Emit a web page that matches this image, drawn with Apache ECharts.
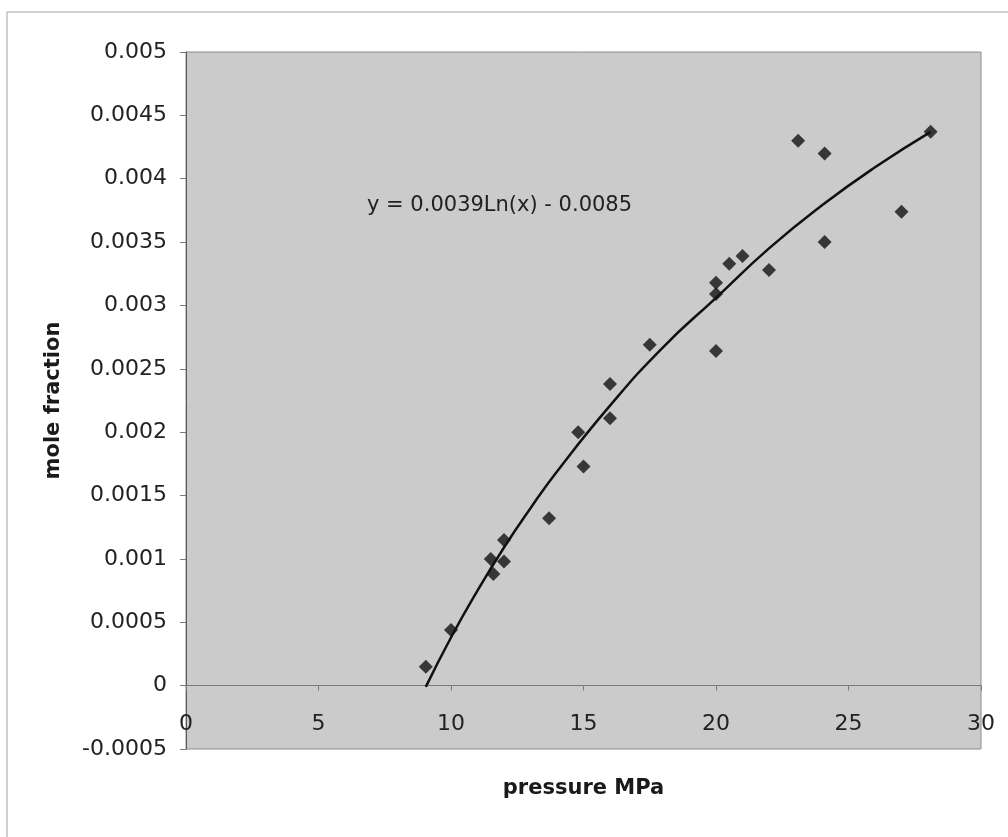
<!DOCTYPE html>
<html>
<head>
<meta charset="utf-8">
<script src="https://cdn.jsdelivr.net/npm/echarts@6.0.0/dist/echarts.min.js"></script>
<style>
  html, body { margin: 0; padding: 0; background: #ffffff; }
  #chart { width: 1008px; height: 837px; }
</style>
</head>
<body>
<div id="chart"></div>
<script>
  // measured points (pressure MPa, mole fraction)
  const pressure = [
    9.05, 10.0, 11.5, 11.6, 12.0, 12.0, 13.7, 14.8, 15.0, 16.0, 16.0, 17.5,
    20.0, 20.0, 20.0, 20.5, 21.0, 22.0, 23.1, 24.1, 24.1, 27.0, 28.1,
  ];
  const moleFraction = [
    0.00015, 0.00044, 0.001, 0.00088, 0.00115, 0.00098, 0.00132, 0.002,
    0.00173, 0.00238, 0.00211, 0.00269, 0.00264, 0.00309, 0.00318, 0.00333,
    0.00339, 0.00328, 0.0043, 0.0042, 0.0035, 0.00374, 0.00437,
  ];

  // log trendline as drawn
  const trendX = [9.05, 10, 11, 12, 13, 14, 16, 18, 20, 22, 24, 26, 28.1];
  const trendY = [
    -0.00001, 0.00038, 0.00075, 0.00109, 0.0014, 0.00169, 0.00221, 0.00267,
    0.00306, 0.00345, 0.00379, 0.00409, 0.00437,
  ];

  const xTicks = [0, 5, 10, 15, 20, 25, 30];
  const yTicks = [
    -0.0005, 0, 0.0005, 0.001, 0.0015, 0.002, 0.0025, 0.003, 0.0035, 0.004,
    0.0045, 0.005,
  ];

  const equation = "y = 0.0039Ln(x) - 0.0085";

  const font = "'DejaVu Sans', 'Liberation Sans', sans-serif";

  let chart = echarts.init(document.getElementById("chart"), null, {
    renderer: "canvas",
  });

  let options = {
    backgroundColor: "#ffffff",
    animation: false,
    grid: {
      left: 186,
      right: 27,
      top: 52,
      bottom: 88,
      outerBoundsMode: "none",
      containLabel: false,
      show: true,
      backgroundColor: "#cbcbcb",
      borderColor: "#8c8c8c",
      borderWidth: 1,
    },
    xAxis: {
      type: "value",
      min: xTicks[0],
      max: xTicks[xTicks.length - 1],
      interval: 5,
      name: "pressure MPa",
      nameLocation: "middle",
      nameGap: 29,
      nameMoveOverlap: false,
      nameTextStyle: {
        fontFamily: font,
        fontSize: 21,
        fontWeight: "bold",
        color: "#1a1a1a",
      },
      axisLine: {
        onZero: true,
        lineStyle: { color: "#7a7a7a", width: 1 },
      },
      axisTick: { show: true, length: 5, lineStyle: { color: "#7a7a7a" } },
      axisLabel: {
        margin: -36,
        fontFamily: font,
        fontSize: 22,
        color: "#222222",
      },
      splitLine: { show: false },
    },
    yAxis: {
      type: "value",
      min: yTicks[0],
      max: yTicks[yTicks.length - 1],
      interval: 0.0005,
      name: "mole fraction",
      nameLocation: "middle",
      nameRotate: 90,
      nameGap: 122,
      nameMoveOverlap: false,
      nameTextStyle: {
        fontFamily: font,
        fontSize: 21,
        fontWeight: "bold",
        color: "#1a1a1a",
      },
      axisLine: {
        show: true,
        onZero: false,
        lineStyle: { color: "#5a5a5a", width: 1 },
      },
      axisTick: { show: true, length: 6, lineStyle: { color: "#7a7a7a" } },
      axisLabel: {
        margin: 19,
        fontFamily: font,
        fontSize: 22,
        color: "#222222",
        formatter: (v) => parseFloat(v.toFixed(4)).toString(),
      },
      splitLine: { show: false },
    },
    graphic: [
      {
        type: "line",
        shape: { x1: 7, y1: 12, x2: 7, y2: 837 },
        style: { stroke: "#a0a0a0", lineWidth: 1 },
      },
      {
        type: "line",
        shape: { x1: 7, y1: 12, x2: 1008, y2: 12 },
        style: { stroke: "#a0a0a0", lineWidth: 1 },
      },
      {
        type: "text",
        left: 367,
        top: 195,
        style: {
          text: equation,
          fontFamily: font,
          fontSize: 21,
          fill: "#222222",
        },
      },
    ],
    series: [
      {
        name: "trend",
        type: "line",
        smooth: true,
        showSymbol: false,
        lineStyle: { color: "#111111", width: 2.5 },
        data: trendX.map((x, i) => [x, trendY[i]]),
        z: 2,
      },
      {
        name: "data",
        type: "scatter",
        symbol: "diamond",
        symbolSize: 14,
        itemStyle: { color: "#111111" },
        data: pressure.map((x, i) => [x, moleFraction[i]]),
        z: 3,
      },
    ],
  };

  chart.setOption(options);
</script>
</body>
</html>
